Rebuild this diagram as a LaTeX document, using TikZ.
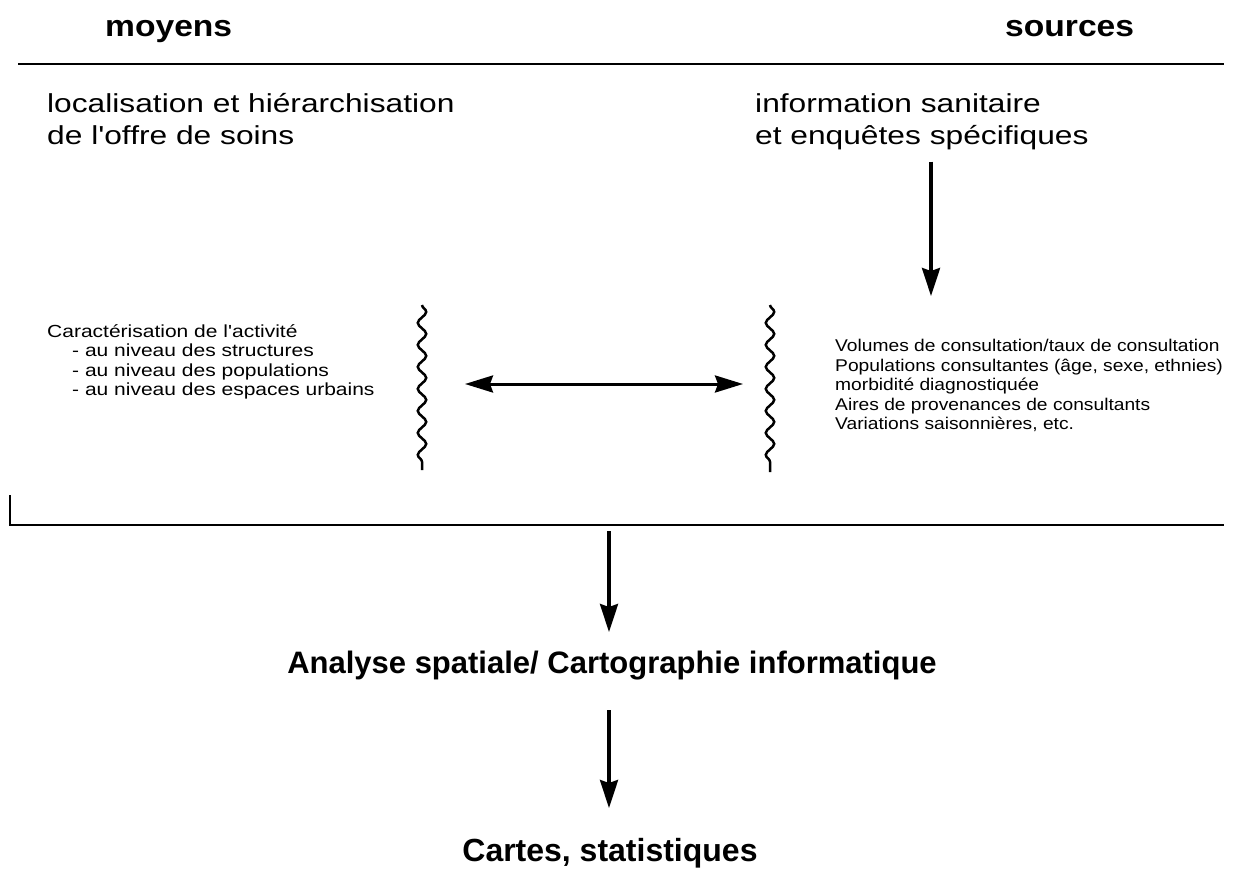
\documentclass[tikz,border=0pt]{standalone}
\usepackage{fontspec}
\setmainfont{Liberation Sans}
\newfontfamily\headf[FakeStretch=1.12]{Liberation Sans Bold}
\newfontfamily\bigf[FakeStretch=1.22]{Liberation Sans}
\newfontfamily\smallf[FakeStretch=1.2]{Liberation Sans}
\newfontfamily\smallrf[FakeStretch=1.13]{Liberation Sans}
\newfontfamily\botf{Liberation Sans Bold}
\usetikzlibrary{arrows.meta,decorations.pathmorphing}
\begin{document}
\begin{tikzpicture}[x=1pt,y=-1pt,
  head/.style={inner sep=0pt,font=\headf\fontsize{30}{36}\selectfont},
  bigtext/.style={inner sep=0pt,align=left,font=\bigf\fontsize{26}{32}\selectfont},
  smalltext/.style={inner sep=0pt,align=left,font=\smallf\fontsize{17.5}{19.5}\selectfont},
  smallrtext/.style={inner sep=0pt,align=left,font=\smallrf\fontsize{17}{19.5}\selectfont},
  bottext/.style={inner sep=0pt,font=\botf\fontsize{31}{38}\selectfont},
  bottext2/.style={inner sep=0pt,font=\botf\fontsize{32}{38}\selectfont},
  rule/.style={line width=2pt},
  wave/.style={line width=2.5pt,decorate,decoration={snake,amplitude=4.2pt,segment length=22pt}},
  arr/.style={line width=3.5pt,-{Stealth[length=28pt,width=18pt,inset=3pt]}},
  darr/.style={line width=3pt,{Stealth[length=28pt,width=17pt,inset=3pt]}-{Stealth[length=28pt,width=17pt,inset=3pt]}}
]
\useasboundingbox (0,0) rectangle (1233,869);
% headings
\node[head,anchor=base west] (moyens) at (105,37) {moyens};
\node[head,anchor=base west] (sources) at (1005,37) {sources};
\draw[rule] (18,64) -- (1224,64);
% upper texts
\node[bigtext,anchor=north west] (loc) at (47,93) {localisation et hiérarchisation\\de l'offre de soins};
\node[bigtext,anchor=north west] (info) at (755,93) {information sanitaire\\et enquêtes spécifiques};
% arrow from info
\coordinate (infoend) at (931,296);
\draw[arr] (info.south -| infoend) ++(0,12) coordinate (infostart) -- (infoend);
% small texts
\node[smalltext,anchor=north west] (carac) at (47,324) {Caractérisation de l'activité\\
\hspace*{25pt}- au niveau des structures\\
\hspace*{25pt}- au niveau des populations\\
\hspace*{25pt}- au niveau des espaces urbains};
\node[smallrtext,anchor=north west] (volumes) at (835,339) {Volumes de consultation/taux de consultation\\
Populations consultantes (âge, sexe, ethnies)\\
morbidité diagnostiquée\\
Aires de provenances de consultants\\
Variations saisonnières, etc.};
% wavy lines
\coordinate (lwtop) at (422,305);
\coordinate (lwbot) at (422,470);
\coordinate (rwtop) at (770,305);
\coordinate (rwbot) at (770,472);
\draw[wave] (lwtop) -- (lwbot);
\draw[wave] (rwtop) -- (rwbot);
% double arrow
\coordinate (dl) at (465,384);
\coordinate (dr) at (743,384);
\draw[darr] (dl) -- (dr);
% bottom rule
\draw[rule] (10,495) -- (10,525) -- (1224,525);
% bottom flow
\node[bottext,anchor=base] (analyse) at (612,673) {Analyse spatiale/ Cartographie informatique};
\node[bottext2,anchor=base] (cartes) at (610,861) {Cartes, statistiques};
\coordinate (a1) at (609,531);
\draw[arr] (a1) -- (a1 |- 0,632) coordinate (a1end);
\draw[arr] (a1 |- 0,710) coordinate (a2) -- (a1 |- 0,808) coordinate (a2end);
\end{tikzpicture}
\end{document}
